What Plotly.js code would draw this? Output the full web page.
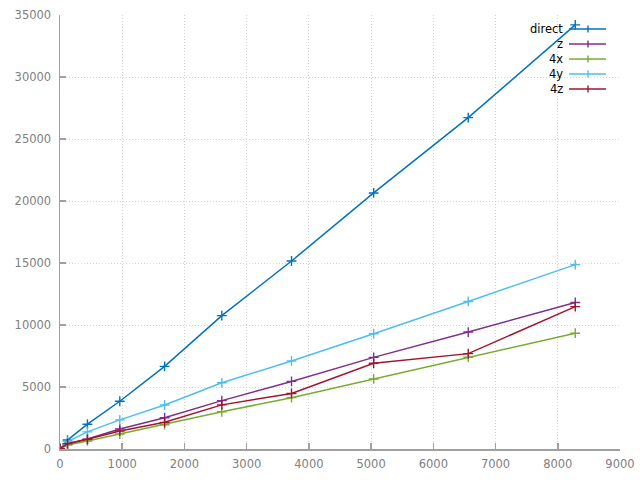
<!DOCTYPE html>
<html>
<head>
<meta charset="utf-8">
<script src="https://cdn.plot.ly/plotly-3.0.1.min.js"></script>
<style>html,body{margin:0;padding:0;background:#fff;}#chart{width:640px;height:480px;}</style>
</head>
<body>
<div id="chart"></div>
<script>
const sizes = [1, 121, 441, 961, 1681, 2601, 3721, 5041, 6561, 8281];
const seriesNames = ["direct", "z", "4x", "4y", "4z"];
const direct = [20, 720, 2000, 3850, 6660, 10760, 15160, 20650, 26720, 34200];
const zVals = [30, 430, 800, 1620, 2520, 3900, 5450, 7390, 9430, 11820];
const x4Vals = [20, 320, 650, 1210, 1960, 3000, 4140, 5650, 7400, 9340];
const y4Vals = [40, 600, 1380, 2350, 3550, 5340, 7100, 9300, 11900, 14870];
const z4Vals = [30, 430, 780, 1450, 2150, 3560, 4480, 6910, 7690, 11480];
const xTicks = [0, 1000, 2000, 3000, 4000, 5000, 6000, 7000, 8000, 9000];
const yTicks = [0, 5000, 10000, 15000, 20000, 25000, 30000, 35000];

const colors = ["#0072bd", "#7e2f8e", "#77ac30", "#4dbeee", "#a2142f"];
const allY = [direct, zVals, x4Vals, y4Vals, z4Vals];

const traces = allY.map((ys, i) => ({
  x: sizes, y: ys, name: seriesNames[i], type: "scatter", mode: "lines+markers",
  line: {color: colors[i], width: 1.5},
  marker: {symbol: "cross-thin", size: 7, line: {color: colors[i], width: 1.4}, color: colors[i]},
  showlegend: false
}));

// plot area in pixels
const L = 60, R = 20, T = 15, B = 31, W = 640, H = 480;
const pw = W - L - R, ph = H - T - B;
const px2x = p => (p - L) / pw;
const px2y = p => (H - B - p) / ph;

const shapes = [], annotations = [];
seriesNames.forEach((n, i) => {
  const py = 29 + i * 15;
  annotations.push({xref: "paper", yref: "paper", x: px2x(565), y: px2y(py), text: n,
    showarrow: false, xanchor: "right", yanchor: "middle",
    font: {family: "DejaVu Sans", size: 11.5, color: "#000"}});
  shapes.push({type: "line", xref: "paper", yref: "paper", x0: px2x(569), x1: px2x(606),
    y0: px2y(py), y1: px2y(py), line: {color: colors[i], width: 1.5}});
  shapes.push({type: "line", xref: "paper", yref: "paper", x0: px2x(588), x1: px2x(588),
    y0: px2y(py - 3.5), y1: px2y(py + 3.5), line: {color: colors[i], width: 1.4}});
});

const axisCommon = {
  showline: true, linecolor: "#a0a0a0", linewidth: 1.5,
  ticks: "inside", ticklen: 6, tickcolor: "#a0a0a0", tickwidth: 1.5,
  showgrid: true, gridcolor: "#d4d4d4", griddash: "1px,2px", gridwidth: 1,
  zeroline: false, mirror: false,
  tickfont: {family: "DejaVu Sans", size: 11.5, color: "#808080"}
};

const layout = {
  width: W, height: H,
  margin: {l: L, r: R, t: T, b: B},
  paper_bgcolor: "#fff", plot_bgcolor: "#fff",
  showlegend: false,
  xaxis: Object.assign({}, axisCommon, {range: [0, 9000], tickmode: "array", tickvals: xTicks,
    ticktext: xTicks.map(String), ticklabelstandoff: 4}),
  yaxis: Object.assign({}, axisCommon, {range: [0, 35000], tickmode: "array", tickvals: yTicks,
    ticktext: yTicks.map(String), ticklabelstandoff: 5}),
  shapes: shapes, annotations: annotations
};

Plotly.newPlot("chart", traces, layout, {staticPlot: true, displayModeBar: false});
</script>
</body>
</html>
